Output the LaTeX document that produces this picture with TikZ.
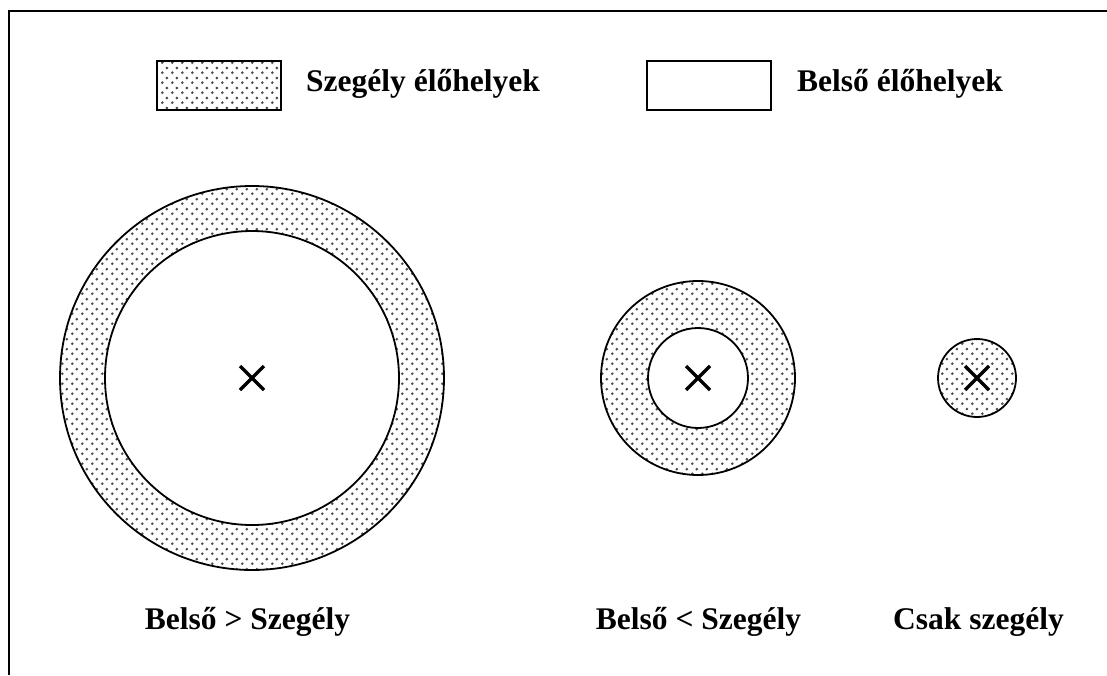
\documentclass[tikz,border=0pt]{standalone}
\usepackage{fontspec}
\setmainfont{Liberation Serif}
\usetikzlibrary{patterns,calc}
\pgfdeclarepatternformonly{sdots}{\pgfpointorigin}{\pgfpoint{10pt}{10pt}}{\pgfpoint{10pt}{10pt}}{%
  \pgfpathcircle{\pgfpoint{2.5pt}{2.5pt}}{1.6pt}%
  \pgfpathcircle{\pgfpoint{7.5pt}{7.5pt}}{1.6pt}%
  \pgfusepath{fill}}
\begin{document}
\begin{tikzpicture}[x=1pt,y=-1pt,
  line/.style={line width=2pt},
  ring/.style={circle,draw,line width=1.8pt,pattern=sdots,pattern color=black!70,inner sep=0pt},
  core/.style={circle,draw,line width=1.8pt,fill=white,inner sep=0pt},
  legbox/.style={draw,line width=2pt,minimum width=124pt,minimum height=49pt,inner sep=0pt},
  lbl/.style={font=\fontsize{31.5}{36}\selectfont\bfseries,inner sep=0pt},
  xm/.style={line width=3.4pt}]
\useasboundingbox (0,0) rectangle (1107,675);
\coordinate (fa) at (9,11);
\coordinate (fb) at (1107,11);
\coordinate (fc) at (9,675);
\draw[line] (fb) -- (fa) -- (fc);
% legend
\node[legbox,pattern=sdots,pattern color=black!70] (lb1) at (219,85) {};
\node[lbl,anchor=base west] (lt1) at (306,91) {Szegély élőhelyek};
\node[legbox] (lb2) at (709,85) {};
\node[lbl,anchor=base west] (lt2) at (797,91) {Belső élőhelyek};
% circles
\node[ring,minimum size=384pt] (o1) at (252,378) {};
\node[core,minimum size=294pt] (i1) at (252,378) {};
\node[ring,minimum size=194pt] (o2) at (698,378) {};
\node[core,minimum size=100pt] (i2) at (698,378) {};
\node[ring,minimum size=78pt] (o3) at (977,378) {};
% crosses
\foreach \c in {i1,i2,o3}{
  \draw[xm] ($(\c.center)+(-12,-12)$) -- ($(\c.center)+(12,12)$);
  \draw[xm] ($(\c.center)+(-12,12)$) -- ($(\c.center)+(12,-12)$);
}
% labels
\node[lbl,anchor=base] (l1) at (247.5,629) {Belső > Szegély};
\node[lbl,anchor=base] (l2) at (698.5,629) {Belső < Szegély};
\node[lbl,anchor=base] (l3) at (978.5,629) {Csak szegély};
\end{tikzpicture}
\end{document}
